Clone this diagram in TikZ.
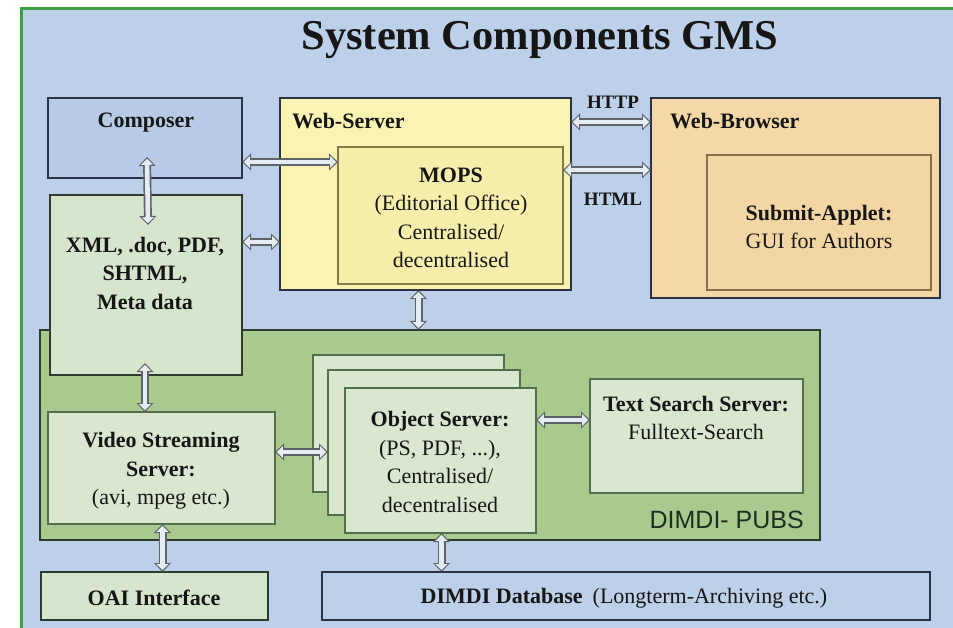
\documentclass[tikz,border=0pt]{standalone}
\usepackage{fontspec}
\setmainfont{Liberation Serif}
\newfontfamily\mysans{Liberation Sans}
\usetikzlibrary{arrows.meta,calc}
\definecolor{bgblue}{HTML}{BCD0EA}
\definecolor{frameg}{HTML}{3AA040}
\definecolor{navy}{HTML}{2B3245}
\definecolor{compfill}{HTML}{B7CBE7}
\definecolor{xmlfill}{HTML}{D6E6CC}
\definecolor{webfill}{HTML}{FBF3B2}
\definecolor{mopsfill}{HTML}{F7EEAC}
\definecolor{mopsline}{HTML}{857A45}
\definecolor{browfill}{HTML}{F5D8A8}
\definecolor{appfill}{HTML}{F4D6A4}
\definecolor{appline}{HTML}{8C6E4A}
\definecolor{pubsfill}{HTML}{A8CA8E}
\definecolor{darkline}{HTML}{2E3B2E}
\definecolor{ingreen}{HTML}{D8E7CE}
\definecolor{inline}{HTML}{526E4A}
\definecolor{arrowline}{HTML}{5E6468}
\definecolor{arrowfill}{HTML}{E4ECF4}
\definecolor{txt}{HTML}{161616}
\definecolor{pubstxt}{HTML}{1F2F1F}
\newcommand{\myfb}{\fontsize{22}{28.5}\selectfont\bfseries}
\newcommand{\myfr}{\fontsize{22}{28.5}\selectfont}
\tikzset{
  box/.style={draw, line width=2.4pt, anchor=north west, inner sep=0pt, outer sep=0pt},
  inbox/.style={draw, line width=2pt, anchor=north west, inner sep=0pt, outer sep=0pt},
  lbl/.style={inner sep=0pt, text=txt, font=\myfb, align=center},
  lblr/.style={inner sep=0pt, text=txt, font=\myfr, align=center},
  harrow/.style={draw=arrowline, line width=8pt,
    {Triangle[length=9pt,width=17pt,line width=0pt]}-{Triangle[length=9pt,width=17pt,line width=0pt]},
    postaction={draw=arrowfill, line width=4.6pt, shorten <=1.8pt, shorten >=1.8pt,
      {Triangle[length=6pt,width=12pt,line width=0pt]}-{Triangle[length=6pt,width=12pt,line width=0pt]}}}
}
\begin{document}
\begin{tikzpicture}[x=1pt,y=-1pt]
\useasboundingbox (0,0) rectangle (953,628);
\fill[white] (0,0) rectangle (953,628);
\fill[bgblue] (21,9) rectangle (953,628);
\draw[frameg, line width=3pt] (21,628) -- (21,9) -- (953,9);

\node[inner sep=0pt, text=txt, font=\fontsize{42.5}{48}\selectfont\bfseries] (title) at (540,40) {System Components GMS};

% top row
\node[box, draw=navy, fill=compfill, minimum width=194pt, minimum height=80pt] (composer) at (48,98) {};
\node[lbl] (composerT) at (146,123) {Composer};

\node[box, draw=navy, fill=webfill, minimum width=291pt, minimum height=192pt] (web) at (280,98) {};
\node[lbl, anchor=west] (webT) at (292,121) {Web-Server};
\node[inbox, draw=mopsline, fill=mopsfill, minimum width=225pt, minimum height=137pt] (mops) at (338,147) {};
\node[lblr] (mopsT) at (451,218) {\textbf{MOPS}\\(Editorial Office)\\Centralised/\\decentralised};

\node[box, draw=navy, fill=browfill, minimum width=289pt, minimum height=200pt] (browser) at (651,98) {};
\node[lbl, anchor=west] (browserT) at (670,121) {Web-Browser};
\node[inbox, draw=appline, fill=appfill, minimum width=224pt, minimum height=135pt] (applet) at (707,155) {};
\node[lblr] (appletT) at (819,227) {\textbf{Submit-Applet:}\\GUI for Authors};

\node[lbl] (http) at (613,102) {\fontsize{19}{22}\selectfont HTTP};
\node[lbl] (html) at (613,199) {\fontsize{19}{22}\selectfont HTML};

% DIMDI-PUBS
\node[box, draw=darkline, fill=pubsfill, minimum width=780pt, minimum height=210pt] (pubs) at (40,330) {};
\node[inner sep=0pt, text=pubstxt, font=\mysans\fontsize{25}{28}\selectfont, anchor=east] (pubsT) at (804,520) {DIMDI- PUBS};

\node[box, draw=darkline, fill=xmlfill, minimum width=192pt, minimum height=180pt] (xml) at (50,195) {};
\node[lbl] (xmlT) at (145,273) {XML, .doc, PDF,\\SHTML,\\Meta data};

\node[inbox, draw=inline, fill=ingreen, minimum width=227pt, minimum height=112pt] (video) at (48,412) {};
\node[lblr] (videoT) at (161,471) {\textbf{Video Streaming}\\\textbf{Server:}\\(avi, mpeg etc.)};

\node[inbox, draw=inline, fill=ingreen, minimum width=191pt, minimum height=137pt] (back1) at (313,355) {};
\node[inbox, draw=inline, fill=ingreen, minimum width=192pt, minimum height=145pt] (back2) at (328,370) {};
\node[inbox, draw=inline, fill=ingreen, minimum width=191pt, minimum height=145pt] (object) at (345,388) {};
\node[lblr] (objectT) at (440,462) {\textbf{Object Server:}\\(PS, PDF, ...),\\Centralised/\\decentralised};

\node[inbox, draw=inline, fill=ingreen, minimum width=213pt, minimum height=114pt] (search) at (590,379) {};
\node[lblr] (searchT) at (696,418) {\textbf{Text Search Server:}\\Fulltext-Search};

% bottom row
\node[box, draw=darkline, fill=xmlfill, minimum width=227pt, minimum height=48pt] (oai) at (41,572) {};
\node[lbl] (oaiT) at (154,598) {OAI Interface};
\node[box, draw=navy, fill=bgblue, minimum width=608pt, minimum height=48pt] (db) at (322,572) {};
\node[lbl] (dbT) at (624,598) {DIMDI Database\hspace{10pt}{\mdseries (Longterm-Archiving etc.)}};

% connectors
\coordinate (c1a) at ([xshift=2pt,yshift=21pt]composer.south);
\coordinate (c1b) at ([xshift=2pt,yshift=-30pt]xml.north);
\draw[harrow] (c1a) -- (c1b);

\coordinate (c2) at ([yshift=16pt]composer.south east);
\draw[harrow] (c2) -- (c2 -| mops.west);

\coordinate (c3) at ([yshift=-47pt]xml.north east);
\draw[harrow] (c3) -- (c3 -| web.west);

\coordinate (c4) at ([yshift=-24pt]web.north east);
\draw[harrow] (c4) -- (c4 -| browser.west);

\coordinate (c5) at ([yshift=-23pt]mops.north east);
\draw[harrow] (c5) -- (c5 -| browser.west);

\coordinate (c6) at ([xshift=-7pt]web.south);
\draw[harrow] (c6) -- (c6 |- pubs.north);

\coordinate (c7) at ([xshift=-1pt,yshift=12pt]xml.south);
\draw[harrow] (c7) -- (c7 |- video.north);

\coordinate (c8) at ([yshift=-40pt]video.north east);
\draw[harrow] (c8) -- (c8 -| back2.west);

\coordinate (c9) at ([yshift=-32pt]object.north east);
\draw[harrow] (c9) -- (c9 -| search.west);

\coordinate (c10) at ([xshift=1pt]object.south);
\draw[harrow] (c10) -- (c10 |- db.north);

\coordinate (c11) at ([xshift=1pt]video.south);
\draw[harrow] (c11) -- (c11 |- oai.north);
\end{tikzpicture}
\end{document}
